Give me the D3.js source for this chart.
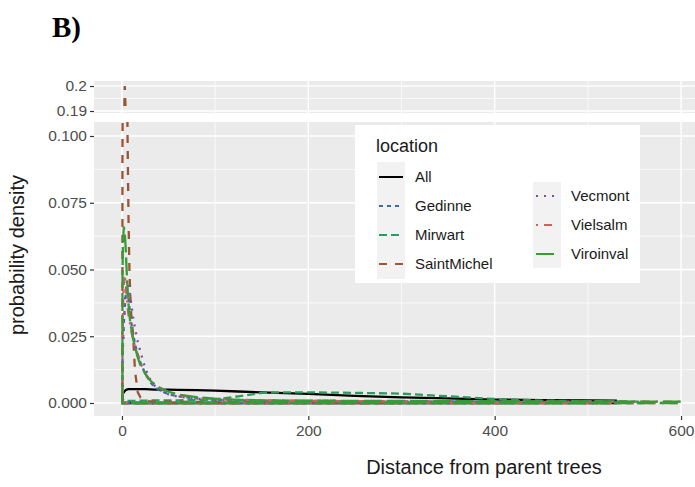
<!DOCTYPE html>
<html>
<head>
<meta charset="utf-8">
<style>
  body { margin: 0; background: #fff; }
  text { font-family: "Liberation Sans", Arial, sans-serif; }
</style>
</head>
<body>
<script src="https://d3js.org/d3.v7.min.js"></script>
<script>
  const distance = [0.5, 1, 2, 3, 4, 5, 6, 7, 8, 9, 10, 12, 14, 17, 20, 25, 30, 35, 40, 50,
    60, 80, 100, 125, 150, 175, 200, 250, 300, 350, 400, 450, 500, 530, 560, 600]

  const densAll = [0.003, 0.0035, 0.004, 0.0045, 0.0048, 0.005, 0.0051, 0.0052, 0.0052, 0.0052,
    0.0052, 0.0052, 0.0052, 0.0052, 0.0052, 0.0052, 0.0051, 0.005, 0.005, 0.005,
    0.0049, 0.0048, 0.0046, 0.0043, 0.004, 0.0037, 0.0034, 0.0027, 0.0021, 0.0017,
    0.0013, 0.0011, 0.001, 0.0009, null, null]
  const densGedinne = [0.015, 0.022, 0.03, 0.036, 0.04, 0.042, 0.041, 0.039, 0.036, 0.033,
    0.03, 0.026, 0.022, 0.018, 0.015, 0.011, 0.008, 0.006, 0.0048, 0.0033,
    0.0025, 0.0017, 0.0012, 0.001, 0.0009, 0.0008, 0.0008, 0.0007, 0.0006, 0.0006,
    0.0005, 0.0005, null, null, null, null]
  const densMirwart = [0.002, 0.0015, 0.0011, 0.001, 0.0009, 0.0009, 0.0008, 0.0008, 0.0008, 0.0008,
    0.0008, 0.0008, 0.0008, 0.0008, 0.0009, 0.0009, 0.0009, 0.001, 0.001, 0.001,
    0.001, 0.0011, 0.0013, 0.0025, 0.0038, 0.004, 0.004, 0.0038, 0.0035, 0.0025,
    0.0015, 0.0009, 0.0007, 0.0006, 0.0005, null]
  const densSaintMichel = [0.09, 0.13, 0.18, 0.2, 0.19, 0.15, 0.1, 0.07, 0.05, 0.04,
    0.033, 0.025, 0.012, 0.004, 0.002, 0.001, 0.0006, 0.0006, 0.0005, 0.0005,
    0.0005, 0.0004, 0.0004, 0.0004, 0.0003, 0.0003, 0.0003, 0.0003, 0.0003, null,
    null, null, null, null, null, null]
  const densVecmont = [0.01, 0.02, 0.03, 0.038, 0.043, 0.045, 0.046, 0.045, 0.043, 0.04,
    0.037, 0.032, 0.028, 0.023, 0.019, 0.013, 0.009, 0.0065, 0.005, 0.0032,
    0.0024, 0.0016, 0.0012, 0.001, 0.0009, 0.0008, 0.0008, 0.0007, 0.0006, 0.0006,
    0.0005, 0.0005, 0.0005, 0.0004, null, null]
  const densVielsalm = [0.02, 0.035, 0.045, 0.048, 0.045, 0.04, 0.036, 0.033, 0.031, 0.029,
    0.027, 0.024, 0.021, 0.018, 0.015, 0.011, 0.0085, 0.007, 0.0058, 0.004,
    0.003, 0.002, 0.0015, 0.0012, 0.001, 0.0009, 0.0008, 0.0007, 0.0006, 0.0006,
    0.0005, 0.0005, 0.0005, 0.0005, 0.0005, 0.0005]
  const densViroinval = [0.045, 0.06, 0.066, 0.064, 0.058, 0.05, 0.043, 0.037, 0.033, 0.03,
    0.028, 0.024, 0.021, 0.017, 0.014, 0.011, 0.0085, 0.007, 0.0058, 0.0042,
    0.0032, 0.0022, 0.0016, 0.0012, 0.001, 0.0009, 0.0009, 0.0008, 0.0008, 0.0007,
    0.0007, 0.0006, 0.0006, 0.0006, 0.0005, 0.0005]

  const locations = ['All', 'Gedinne', 'Mirwart', 'SaintMichel', 'Vecmont', 'Vielsalm', 'Viroinval']
  const densities = [densAll, densGedinne, densMirwart, densSaintMichel, densVecmont, densVielsalm, densViroinval]
  const colors = ['#000000', '#3d6b9c', '#2e9b5e', '#9a5535', '#7a4ea8', '#d0605c', '#3a9a3a']
  const dashes = [null, '4 4', '8 4', '8 8', '2 6', '2 6 8 6', '18 5']

  const xTicks = [0, 200, 400, 600]
  const xMinor = [100, 300, 500]
  const yTicks = [0, 0.025, 0.05, 0.075, 0.1]
  const yMinor = [0.0125, 0.0375, 0.0625, 0.0875]
  const yTopTicks = [0.19, 0.2]
  const yTopMinor = [0.195]

  const width = 695
  const height = 487
  const panelLeft = 94
  const panelRight = 709
  const bottomPanel = { top: 122, bottom: 416 }
  const topPanel = { top: 81, bottom: 113 }

  const svg = d3.select('body').append('svg')
    .attr('width', width)
    .attr('height', height)

  // scales
  const x = d3.scaleLinear().domain([-30, 630]).range([panelLeft, panelRight])
  const y = d3.scaleLinear().domain([0, 0.1]).range([403, 136])
  const yTop = d3.scaleLinear().domain([0.19, 0.2]).range([111, 86])

  // panel label
  svg.append('text')
    .attr('x', 52).attr('y', 37)
    .style('font-family', '"Liberation Serif", "Times New Roman", serif')
    .style('font-weight', 'bold')
    .style('font-size', '29px')
    .text('B)')

  const defs = svg.append('defs')

  function drawPanel(box, yScale, major, minor, fmt, clipId) {
    const g = svg.append('g')
    g.append('rect')
      .attr('x', panelLeft).attr('y', box.top)
      .attr('width', panelRight - panelLeft).attr('height', box.bottom - box.top)
      .attr('fill', '#ebebeb')

    defs.append('clipPath').attr('id', clipId)
      .append('rect')
      .attr('x', panelLeft).attr('y', box.top)
      .attr('width', panelRight - panelLeft).attr('height', box.bottom - box.top)

    const grid = g.append('g').attr('clip-path', `url(#${clipId})`)
    grid.selectAll('.hmin').data(minor).enter().append('line')
      .attr('x1', panelLeft).attr('x2', panelRight)
      .attr('y1', d => yScale(d)).attr('y2', d => yScale(d))
      .attr('stroke', '#fff').attr('stroke-width', 0.7)
    grid.selectAll('.vmin').data(xMinor).enter().append('line')
      .attr('x1', d => x(d)).attr('x2', d => x(d))
      .attr('y1', box.top).attr('y2', box.bottom)
      .attr('stroke', '#fff').attr('stroke-width', 0.7)
    grid.selectAll('.hmaj').data(major).enter().append('line')
      .attr('x1', panelLeft).attr('x2', panelRight)
      .attr('y1', d => yScale(d)).attr('y2', d => yScale(d))
      .attr('stroke', '#fff').attr('stroke-width', 1.4)
    grid.selectAll('.vmaj').data(xTicks).enter().append('line')
      .attr('x1', d => x(d)).attr('x2', d => x(d))
      .attr('y1', box.top).attr('y2', box.bottom)
      .attr('stroke', '#fff').attr('stroke-width', 1.4)

    // y axis
    const axis = g.append('g')
      .attr('transform', `translate(${panelLeft},0)`)
      .call(d3.axisLeft(yScale).tickValues(major).tickFormat(fmt).tickSize(4).tickPadding(3))
    axis.select('.domain').remove()
    axis.selectAll('line').attr('stroke', '#333').attr('stroke-width', 1.2)
    axis.selectAll('text').attr('fill', '#4d4d4d').style('font-size', '15.5px')
      .style('font-family', '"Liberation Sans", Arial, sans-serif')

    // density outlines (closed polygons like geom_density)
    const line = d3.line().x(d => x(d[0])).y(d => yScale(d[1]))
    const curves = g.append('g').attr('clip-path', `url(#${clipId})`)
    densities.forEach((vals, i) => {
      const pts = distance.map((d, j) => [d, vals[j]]).filter(p => p[1] != null)
      const poly = [[pts[0][0], 0], ...pts, [pts[pts.length - 1][0], 0]]
      curves.append('path')
        .attr('d', line(poly) + 'Z')
        .attr('fill', 'none')
        .attr('stroke', colors[i])
        .attr('stroke-width', 2.3)
        .attr('stroke-dasharray', dashes[i])
    })
  }

  drawPanel(topPanel, yTop, yTopTicks, yTopMinor, d3.format(''), 'clipTop')
  drawPanel(bottomPanel, y, yTicks, yMinor, d3.format('.3f'), 'clipBottom')

  // x axis
  const xAxis = svg.append('g')
    .attr('transform', `translate(0,${bottomPanel.bottom})`)
    .call(d3.axisBottom(x).tickValues(xTicks).tickSize(4).tickPadding(5))
  xAxis.select('.domain').remove()
  xAxis.selectAll('line').attr('stroke', '#333').attr('stroke-width', 1.2)
  xAxis.selectAll('text').attr('fill', '#4d4d4d').style('font-size', '15.5px')
    .style('font-family', '"Liberation Sans", Arial, sans-serif')

  // axis titles
  svg.append('text')
    .attr('x', 484).attr('y', 474)
    .attr('text-anchor', 'middle')
    .style('font-size', '20px').attr('fill', '#1a1a1a')
    .text('Distance from parent trees')

  svg.append('text')
    .attr('transform', 'translate(24,255) rotate(-90)')
    .attr('text-anchor', 'middle')
    .style('font-size', '20px').attr('fill', '#1a1a1a')
    .text('probability density')

  // legend
  const legend = svg.append('g')
  legend.append('rect')
    .attr('x', 355).attr('y', 125).attr('width', 285).attr('height', 158)
    .attr('fill', '#fff')
  legend.append('text')
    .attr('x', 376).attr('y', 152)
    .style('font-size', '18px').attr('fill', '#1a1a1a')
    .text('location')

  const col1 = [0, 1, 2, 3]
  const col2 = [4, 5, 6]
  legend.append('rect').attr('x', 377).attr('y', 162).attr('width', 28).attr('height', 117).attr('fill', '#f2f2f2')
  legend.append('rect').attr('x', 533).attr('y', 182).attr('width', 28).attr('height', 86).attr('fill', '#f2f2f2')

  function legendColumn(idx, x0, y0, keyStart, keyEnd) {
    idx.forEach((k, r) => {
      const yy = y0 + r * 29
      legend.append('line')
        .attr('x1', x0 + keyStart).attr('x2', x0 + keyEnd)
        .attr('y1', yy).attr('y2', yy)
        .attr('stroke', colors[k]).attr('stroke-width', 2)
        .attr('stroke-dasharray', dashes[k])
      legend.append('text')
        .attr('x', x0 + 38).attr('y', yy + 5)
        .style('font-size', '15px').attr('fill', '#1a1a1a')
        .text(locations[k])
    })
  }
  legendColumn(col1, 377, 177, 2, 26)
  legendColumn(col2, 533, 196, 3, 21)
</script>
</body>
</html>
